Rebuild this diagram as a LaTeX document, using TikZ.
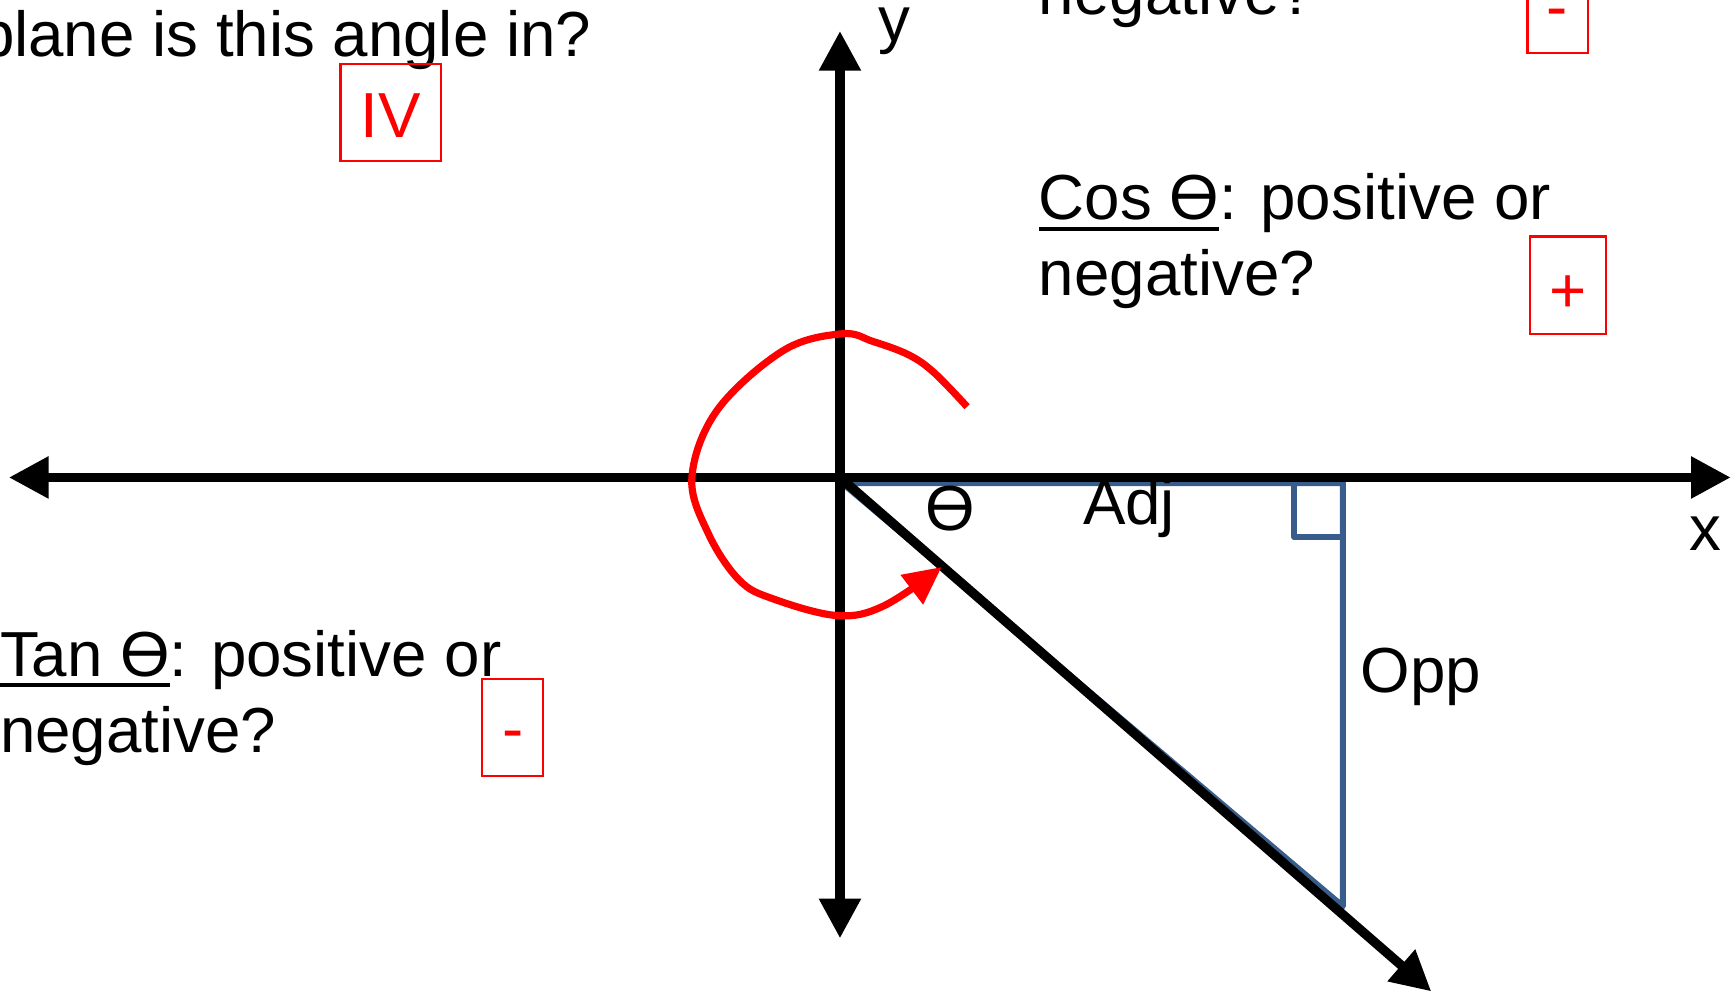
\documentclass[tikz,border=0pt]{standalone}
\usepackage{fontspec}
\setmainfont{Liberation Sans}
\usetikzlibrary{arrows.meta}
\definecolor{tri}{RGB}{56,93,138}
\newcommand{\ulx}[1]{\setbox0\hbox{#1}\rlap{\rule[-10pt]{\wd0}{3.8pt}}\box0}
\begin{document}
\begin{tikzpicture}[x=1pt,y=-1pt,
  txt/.style={font=\fontsize{57.6}{68.5}\selectfont, inner sep=0pt, outer sep=0pt},
  ans/.style={txt, text=red, anchor=base},
  ansbox/.style={draw=red, line width=2pt, inner sep=0pt, outer sep=0pt},
  bigtip/.tip={Triangle[length=36pt,width=36pt]},
  axis/.style={line width=8.5pt, bigtip-bigtip},
  ray/.style={line width=8.5pt, -bigtip},
  tline/.style={draw=tri, line width=5.5pt, line join=round},
  turn/.style={draw=red, line width=6.5pt, -{Triangle[length=34pt,width=32pt]}}]
\useasboundingbox (0,0) rectangle (1568,897);
\clip (0,0) rectangle (1568,897);
% coordinates
\coordinate (O) at (760,432);
\coordinate (xl) at (8,432);
\coordinate (xr) at (1566,432);
\coordinate (yt) at (760,28);
\coordinate (yb) at (760,849);
\coordinate (rt) at (1295,897);
\coordinate (A) at (762,437);
\coordinate (B) at (1215,437);
\coordinate (C) at (1215,820);
% triangle
\draw[tline] (A) -- (B) -- (C) -- cycle;
\draw[tline] (1171,437) rectangle (1215,486);
% axes and ray
\draw[axis] (xl) -- (xr);
\draw[axis] (yb) -- (yt);
\draw[ray] (O) -- (rt);
% rotation arrow
\draw[turn] plot[smooth, tension=0.6] coordinates {(875,368) (845,337) (822,321) (790,309) (762,302) (709,317) (649,371) (626,432) (641,483) (669,525) (700,542) (758,557) (800,548) (852,513)};
% axis labels
\node[txt, anchor=base west] (ylab) at (795,37.5) {y};
\node[txt, anchor=base] (xlab) at (1543,498) {x};
\node[txt, anchor=base west] (th) at (837,480) {Ө};
\node[txt, anchor=base west] (adj) at (980,475) {Adj};
\node[txt, anchor=base west] (opp) at (1231,627) {Opp};
% questions
\node[txt, anchor=base east] (q1) at (535,51) {plane is this angle in?};
\node[txt, anchor=base west] (q2) at (940,13.5) {negative?};
\node[txt, anchor=base west, align=left] (q3) at (940,267.5) {\ulx{Cos Ө}: positive or\\negative?};
\node[txt, anchor=base west, align=left] (q4) at (0,680.5) {\ulx{Tan Ө}: positive or\\negative?};
% answer boxes
\node[ansbox, minimum width=91pt, minimum height=88pt] (b1) at (353.5,102) {};
\node[ans] (a1) at (353.5,124) {IV};
\node[ansbox, minimum width=55pt, minimum height=58pt] (b2) at (1409.5,19) {};
\node[ans] (a2) at (1409,26) {-};
\node[ansbox, minimum width=69pt, minimum height=88pt] (b3) at (1418.5,258) {};
\node[ans] (a3) at (1419,283) {+};
\node[ansbox, minimum width=55pt, minimum height=88pt] (b4) at (463.5,658) {};
\node[ans] (a4) at (464,679) {-};
\end{tikzpicture}
\end{document}
